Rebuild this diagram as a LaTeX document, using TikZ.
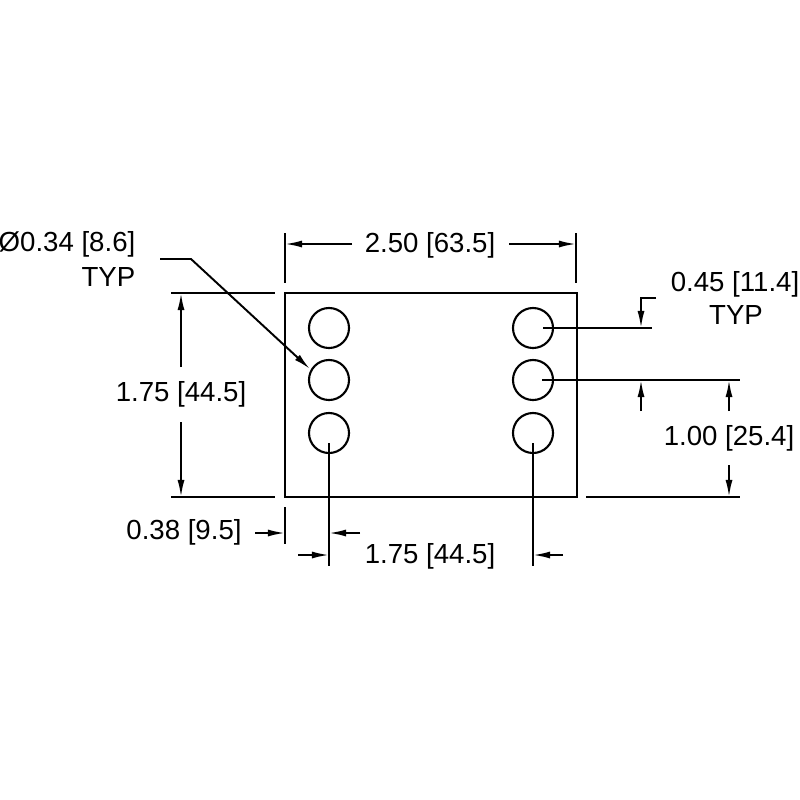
\documentclass[tikz,border=0pt]{standalone}
\usepackage{fontspec}
\setmainfont{Liberation Sans}
\usetikzlibrary{arrows.meta}
\tikzset{
    dim/.style={font=\fontsize{7.85}{9}\selectfont,inner sep=0},
    hole/.style={circle,draw,line width=0.6pt,minimum size=0.4cm,inner sep=0,outer sep=0},
    dimline/.style={-{Latex[length=0.17cm,width=0.07cm]},line width=0.55pt},
    extline/.style={line width=0.6pt}
}
\begin{document}
\begin{tikzpicture}[x=0.01cm,y=-0.01cm]
    \useasboundingbox (0,0) rectangle (800,800);
    \node[rectangle,draw,line width=0.6pt,minimum width=2.92cm,minimum height=2.04cm,inner sep=0,outer sep=0] (plate) at (431,395) {};
    \node[hole] (hole_l1) at (329,328) {};
    \node[hole] (hole_l2) at (329,380) {};
    \node[hole] (hole_l3) at (329,433) {};
    \node[hole] (hole_r1) at (533,328) {};
    \node[hole] (hole_r2) at (533,380) {};
    \node[hole] (hole_r3) at (533,433) {};

    \node[dim] (width_txt) at (430,245) {2.50 [63.5]};
    \node[dim,anchor=east] (dia_txt) at (136,244) {Ø0.34 [8.6]};
    \node[dim,anchor=east] (dia_typ) at (136,277) {TYP};
    \node[dim] (height_txt) at (181,394) {1.75 [44.5]};
    \node[dim] (pitch_txt) at (735,284) {0.45 [11.4]};
    \node[dim] (pitch_typ) at (736,315) {TYP};
    \node[dim] (rise_txt) at (729,438) {1.00 [25.4]};
    \node[dim] (edge_txt) at (184,532) {0.38 [9.5]};
    \node[dim] (span_txt) at (430,556) {1.75 [44.5]};

    % top dimension
    \coordinate (top_l_a) at (285,233);
    \coordinate (top_l_b) at (285,283);
    \coordinate (top_r_a) at (576,233);
    \coordinate (top_r_b) at (576,283);
    \coordinate (top_l_tail) at (352,244);
    \coordinate (top_l_tip) at (285,244);
    \coordinate (top_r_tail) at (509,244);
    \coordinate (top_r_tip) at (576,244);
    \draw[extline] (top_l_a) -- (top_l_b);
    \draw[extline] (top_r_a) -- (top_r_b);
    \draw[dimline] (top_l_tail) -- (top_l_tip);
    \draw[dimline] (top_r_tail) -- (top_r_tip);

    % left dimension
    \coordinate (left_t_a) at (171,293);
    \coordinate (left_t_b) at (275,293);
    \coordinate (left_b_a) at (171,497);
    \coordinate (left_b_b) at (275,497);
    \coordinate (left_t_tail) at (181,367);
    \coordinate (left_t_tip) at (181,293);
    \coordinate (left_b_tail) at (181,422);
    \coordinate (left_b_tip) at (181,497);
    \draw[extline] (left_t_a) -- (left_t_b);
    \draw[extline] (left_b_a) -- (left_b_b);
    \draw[dimline] (left_t_tail) -- (left_t_tip);
    \draw[dimline] (left_b_tail) -- (left_b_tip);

    % diameter leader
    \coordinate (dia_a) at (160,259);
    \coordinate (dia_b) at (191,259);
    \coordinate (dia_c) at (310,369);
    \draw[dimline] (dia_a) -- (dia_b) -- (dia_c);

    % right dimensions
    \coordinate (r1_a) at (543,328);
    \coordinate (r1_b) at (652,328);
    \coordinate (r2_a) at (542,380);
    \coordinate (r2_b) at (740,380);
    \coordinate (r3_a) at (586,497);
    \coordinate (r3_b) at (740,497);
    \draw[extline] (r1_a) -- (r1_b);
    \draw[extline] (r2_a) -- (r2_b);
    \draw[extline] (r3_a) -- (r3_b);
    \coordinate (pitch_a) at (656,298);
    \coordinate (pitch_b) at (641,298);
    \coordinate (pitch_c) at (641,328);
    \coordinate (pitch_d) at (641,411);
    \coordinate (pitch_e) at (641,380);
    \draw[dimline] (pitch_a) -- (pitch_b) -- (pitch_c);
    \draw[dimline] (pitch_d) -- (pitch_e);
    \coordinate (rise_t_tail) at (729,411);
    \coordinate (rise_t_tip) at (729,380);
    \coordinate (rise_b_tail) at (729,465);
    \coordinate (rise_b_tip) at (729,497);
    \draw[dimline] (rise_t_tail) -- (rise_t_tip);
    \draw[dimline] (rise_b_tail) -- (rise_b_tip);

    % bottom dimensions
    \coordinate (edge_a) at (285,507);
    \coordinate (edge_b) at (285,544);
    \coordinate (drop_l_a) at (329,443);
    \coordinate (drop_l_b) at (329,566);
    \coordinate (drop_r_a) at (533,443);
    \coordinate (drop_r_b) at (533,566);
    \draw[extline] (edge_a) -- (edge_b);
    \draw[extline] (drop_l_a) -- (drop_l_b);
    \draw[extline] (drop_r_a) -- (drop_r_b);
    \coordinate (edge_l_tail) at (255,533);
    \coordinate (edge_l_tip) at (285,533);
    \coordinate (edge_r_tail) at (360,533);
    \coordinate (edge_r_tip) at (329,533);
    \coordinate (span_l_tail) at (298,555);
    \coordinate (span_l_tip) at (329,555);
    \coordinate (span_r_tail) at (563,555);
    \coordinate (span_r_tip) at (533,555);
    \draw[dimline] (edge_l_tail) -- (edge_l_tip);
    \draw[dimline] (edge_r_tail) -- (edge_r_tip);
    \draw[dimline] (span_l_tail) -- (span_l_tip);
    \draw[dimline] (span_r_tail) -- (span_r_tip);
\end{tikzpicture}
\end{document}
